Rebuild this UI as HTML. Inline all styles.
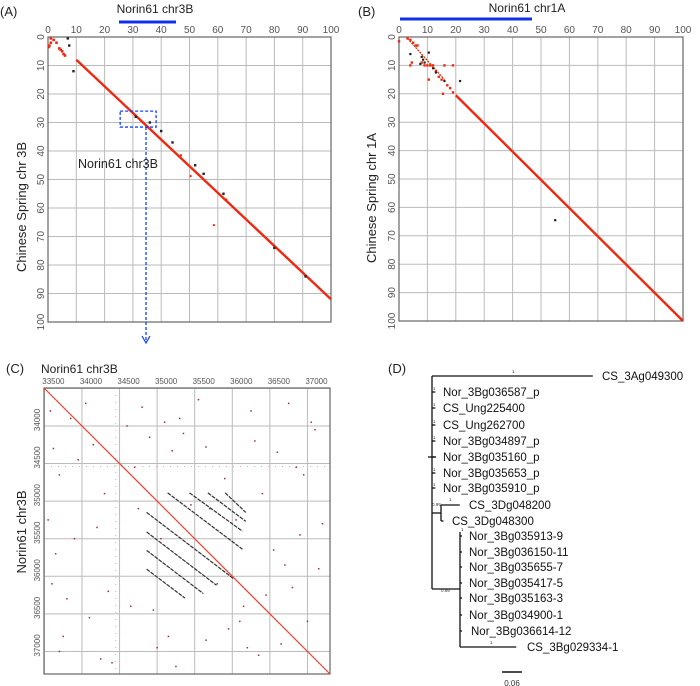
<!DOCTYPE html>
<html><head><meta charset="utf-8">
<style>
body{margin:0;background:#fff;}
svg{display:block;font-family:"Liberation Sans",sans-serif;}
</style></head>
<body>
<svg id="fig" width="700" height="686" viewBox="0 0 700 686">
<g id="A"></g>
<g id="B"></g>
<g id="C"></g>
<g id="D"></g>
</svg>
<script>
// ---------- data ----------
const ticksAB = [0,10,20,30,40,50,60,70,80,90,100];
// Panel A (Norin61 chr3B vs Chinese Spring chr3B), Mb
const aDiagStart = [10, 8];
const aDiagEnd = [100, 92];
const aRedDotsX = [0.5,1,2,3,4,4.5,5,5.5,6,1,0.3];
const aRedDotsY = [3,2,1,2,4,4.5,5,6,6.5,0.5,3.5];
const aBlackDotsX = [7,7.5,9,31,36,40,44,52,55,62,80,91];
const aBlackDotsY = [0.5,3,12,28,30,33,37,45,48,55,74,84];
const aOutX = [50.4, 58.6, 47, 63];
const aOutY = [48.8, 66, 41.5, 57];
const aBox = [25.5, 26, 38.2, 31.6];
// Panel B (Norin61 chr1A vs CS chr1A)
const bDiagStart = [20, 20.5];
const bDiagEnd = [100, 100];
const bRedDotsX = [0,3,4,5,6,6.5,4,4.5,8,9,10,11,12,13,14,15,16,17,18,19,15.5,10.5,19];
const bRedDotsY = [1.5,0.5,1,2,3,3,10,9,9,10,10,10,10,12,14,15,10,17,18,10,20,15,19.5];
const bBlackDotsX = [4,8,8.5,9,10.5,12,13,16,21.5,55,7.5];
const bBlackDotsY = [6,7,8,9,5.5,11,12.5,15.5,15.5,64.5,9.5];
// Panel C (self dot plot of Norin61 chr3B region), kb
const cTicks = [33500,34000,34500,35000,35500,36000,36500,37000];
const cDomain = [33495, 37300];
const cRepeatX1 = [35140,35430,35675,35905,34860,34860,34860,34860];
const cRepeatY1 = [34890,34890,34890,34890,35150,35410,35655,35905];
const cRepeatX2 = [36135,36135,36180,36180,36015,35790,35615,35370];
const cRepeatY2 = [35640,35400,35270,35150,36030,36120,36230,36290];
const cNoiseX = [33620,33700,33850,33950,34150,34300,34600,34700,34900,35100,35200,35350,35650,35900,36300,36400,36600,36850,36950,37100,33550,33900,34200,34750,35050,35450,35700,36050,36550,36700,36900,37150,33600,33800,34100,34350,34650,35800,36150,36450,36800,37000,35150,35650,35950,36200,33700,34250,33580,34050,34800,35300,35550,36250,36750,37050,33750,34400,35000,35250,36350,36650,37200,33650,34950,36100];
const cNoiseY = [34300,34650,33900,34450,34250,34900,34000,34550,34150,33950,34330,34100,34280,34700,34200,34900,34350,34550,34650,34050,35250,35500,35350,35100,35500,35050,35100,35250,35650,35850,35450,35900,36100,36300,36550,36200,36400,36100,36400,36250,36150,36600,36800,36850,36700,36950,37000,37100,33800,33700,33750,33900,33650,33800,33700,33950,36800,37150,36950,37200,37050,36900,35300,35700,36450,36600];
// Panel D tree
const leafNames = ["CS_3Ag049300","Nor_3Bg036587_p","CS_Ung225400","CS_Ung262700","Nor_3Bg034897_p","Nor_3Bg035160_p","Nor_3Bg035653_p","Nor_3Bg035910_p","CS_3Dg048200","CS_3Dg048300","Nor_3Bg035913-9","Nor_3Bg036150-11","Nor_3Bg035655-7","Nor_3Bg035417-5","Nor_3Bg035163-3","Nor_3Bg034900-1","Nor_3Bg036614-12","CS_3Bg029334-1"];
const leafDepth = [0.48,0.01,0.01,0.01,0.01,0.01,0.01,0.01,0.08,0.03,0.08,0.08,0.08,0.08,0.08,0.08,0.09,0.24];

// ---------- helpers ----------
const NS="http://www.w3.org/2000/svg";
function mk(parent,tag,attrs,text){const e=document.createElementNS(NS,tag);for(const k in attrs)e.setAttribute(k,attrs[k]);if(text!==undefined)e.textContent=text;parent.appendChild(e);return e;}

function dotPlot(g, x0, y0, w, h, opts){
  const sx=v=>x0+(v-opts.dom[0])/(opts.dom[1]-opts.dom[0])*w;
  const sy=v=>y0+(v-opts.dom[0])/(opts.dom[1]-opts.dom[0])*h;
  opts.ticks.forEach((t,i)=>{
    const gx=mk(g,'line',{x1:sx(t),y1:y0,x2:sx(t),y2:y0+h,stroke:'#bbb','stroke-width':1});
    
    
    const gy=mk(g,'line',{x1:x0,y1:sy(t),x2:x0+w,y2:sy(t),stroke:'#bbb','stroke-width':1});
    
    
    const tx=mk(g,'text',{x:sx(t)+opts.xoff,y:y0-4,'font-size':opts.fs,fill:'#555','text-anchor':'middle'},t);
    
    
    if(opts.skipFirstY && i===0) return;
    const yy=sy(t)+opts.yoff;
    const ty=mk(g,'text',{x:x0-4,y:yy,'font-size':opts.fs,fill:'#555','text-anchor':'middle',transform:`rotate(-90 ${x0-4} ${yy})`},t);
    
    
  });
  const fr=mk(g,'rect',{x:x0,y:y0,width:w,height:h,fill:'none',stroke:'#666','stroke-width':1.2});
  
  
  return {sx,sy};
}
function dots(g,xs,ys,sx,sy,color,r,name){
  xs.forEach((v,i)=>{
    const c=mk(g,'rect',{x:sx(v)-r,y:sy(ys[i])-r,width:2*r,height:2*r,fill:color});
    
    
  });
}

// ---------- Panel A ----------
(function(){
  const g=document.getElementById('A');
  mk(g,'text',{x:0,y:16,'font-size':13,fill:'#222'},'(A)');
  const t=mk(g,'text',{x:155,y:13,'font-size':12,fill:'#222','text-anchor':'middle'},'Norin61 chr3B');
  
  
  const bar=mk(g,'line',{x1:119,y1:22,x2:176,y2:22,stroke:'#1030e8','stroke-width':3});
  
  
  const yt=mk(g,'text',{x:26,y:207,'font-size':13,fill:'#222','text-anchor':'middle',transform:'rotate(-90 26 207)'},'Chinese Spring chr 3B');
  
  
  const {sx,sy}=dotPlot(g,48,37,283,285,{dom:[0,100],ticks:ticksAB,fs:10,xoff:0,yoff:0});
  const d=mk(g,'line',{x1:sx(aDiagStart[0]),y1:sy(aDiagStart[1]),x2:sx(aDiagEnd[0]),y2:sy(aDiagEnd[1]),stroke:'#f02810','stroke-width':2.4});
  
  
  dots(g,aRedDotsX,aRedDotsY,sx,sy,'#f02810',1.3,'red-match');
  dots(g,aOutX,aOutY,sx,sy,'#f02810',1,'red-match');
  dots(g,aBlackDotsX,aBlackDotsY,sx,sy,'#222',1.2,'black-match');
  const box=mk(g,'rect',{x:sx(aBox[0]),y:sy(aBox[1]),width:sx(aBox[2])-sx(aBox[0]),height:sy(aBox[3])-sy(aBox[1]),fill:'none',stroke:'#1040ff','stroke-width':1.3,'stroke-dasharray':'3,2'});
  
  
  const ln=mk(g,'line',{x1:146,y1:sy(aBox[3]),x2:146,y2:341,stroke:'#1040ff','stroke-width':1.3,'stroke-dasharray':'3,2'});
  
  
  const ah=mk(g,'path',{d:'M142,336 L146,343 L150,336',fill:'none',stroke:'#1040ff','stroke-width':1.2});
  
  
  const lb=mk(g,'text',{x:78,y:168,'font-size':12.5,fill:'#222'},'Norin61 chr3B');
  
  
})();

// ---------- Panel B ----------
(function(){
  const g=document.getElementById('B');
  mk(g,'text',{x:358,y:16,'font-size':13,fill:'#222'},'(B)');
  const t=mk(g,'text',{x:527,y:12,'font-size':12,fill:'#222','text-anchor':'middle'},'Norin61 chr1A');
  
  
  const bar=mk(g,'line',{x1:400,y1:19,x2:532,y2:19,stroke:'#1030e8','stroke-width':3});
  
  
  const yt=mk(g,'text',{x:376,y:198,'font-size':13,fill:'#222','text-anchor':'middle',transform:'rotate(-90 376 198)'},'Chinese Spring chr 1A');
  
  
  const {sx,sy}=dotPlot(g,399,37,284,284,{dom:[0,100],ticks:ticksAB,fs:10,xoff:0,yoff:0});
  const d=mk(g,'line',{x1:sx(bDiagStart[0]),y1:sy(bDiagStart[1]),x2:sx(bDiagEnd[0]),y2:sy(bDiagEnd[1]),stroke:'#f02810','stroke-width':2.4});
  
  
  const d2=mk(g,'line',{x1:sx(3),y1:sy(0.5),x2:sx(16),y2:sy(15),stroke:'#e03010','stroke-width':1.3,'stroke-dasharray':'2,1'});
  
  
  dots(g,bRedDotsX,bRedDotsY,sx,sy,'#f02810',1.2,'red-match');
  dots(g,bBlackDotsX,bBlackDotsY,sx,sy,'#222',1.1,'black-match');
})();

// ---------- Panel C ----------
(function(){
  const g=document.getElementById('C');
  mk(g,'text',{x:6,y:373,'font-size':13,fill:'#222'},'(C)');
  const t=mk(g,'text',{x:41,y:373,'font-size':12,fill:'#222'},'Norin61 chr3B');
  
  
  const yt=mk(g,'text',{x:26,y:532,'font-size':13,fill:'#222','text-anchor':'middle',transform:'rotate(-90 26 532)'},'Norin61 chr3B');
  
  
  const {sx,sy}=dotPlot(g,44,388,286,286,{dom:cDomain,ticks:cTicks,fs:8,xoff:9,yoff:-6,skipFirstY:true});
  const vc=mk(g,'line',{x1:sx(34450),y1:388,x2:sx(34450),y2:674,stroke:'#f08070','stroke-width':1,'stroke-dasharray':'1,6',opacity:0.7});
  
  
  const hr=mk(g,'line',{x1:44,y1:sy(34540),x2:330,y2:sy(34540),stroke:'#f08070','stroke-width':1,'stroke-dasharray':'1,6',opacity:0.7});
  
  
  dots(g,cNoiseX,cNoiseY,sx,sy,'#a03030',0.75,'noise-match');
  cRepeatX1.forEach((x1,i)=>{
    const l=mk(g,'line',{x1:sx(x1),y1:sy(cRepeatY1[i]),x2:sx(cRepeatX2[i]),y2:sy(cRepeatY2[i]),stroke:'#333','stroke-width':1.2,'stroke-dasharray':'4,1'});
    
    
  });
  const d=mk(g,'line',{x1:44,y1:388,x2:330,y2:674,stroke:'#f04030','stroke-width':1.2});
  
  
})();

// ---------- Panel D ----------
(function(){
  const g=document.getElementById('D');
  mk(g,'text',{x:388,y:373,'font-size':13,fill:'#222'},'(D)');
  const rowsY=[376,392,408,425,441,457,473,488,505,521,536,552,567,583,598,615,631,647];
  const baseX=432, scale=335;
  const stroke={stroke:'#111','stroke-width':1.3};
  const sx=v=>baseX+v*scale;
  mk(g,'line',Object.assign({x1:baseX,y1:376,x2:baseX,y2:589},stroke));
  const outX=sx(leafDepth[0]);
  const o=mk(g,'line',Object.assign({x1:baseX,y1:rowsY[0],x2:outX,y2:rowsY[0]},stroke));
  
  
  for(let i=1;i<=7;i++){
    const b=mk(g,'line',Object.assign({x1:baseX,y1:rowsY[i],x2:sx(leafDepth[i]),y2:rowsY[i]},stroke));
    
    
  }
  mk(g,'line',Object.assign({x1:428,y1:457,x2:436,y2:457},stroke));
  const nD=441;
  mk(g,'line',Object.assign({x1:baseX,y1:513,x2:nD,y2:513},stroke));
  mk(g,'line',Object.assign({x1:nD,y1:505,x2:nD,y2:521},stroke));
  mk(g,'line',Object.assign({x1:nD,y1:rowsY[8],x2:nD+leafDepth[8]*scale*0.7,y2:rowsY[8]},stroke));
  mk(g,'line',Object.assign({x1:nD,y1:rowsY[9],x2:nD+leafDepth[9]*scale*0.25,y2:rowsY[9]},stroke));
  const nB=460;
  mk(g,'line',Object.assign({x1:baseX,y1:589,x2:nB,y2:589},stroke));
  mk(g,'line',Object.assign({x1:nB,y1:532,x2:nB,y2:647},stroke));
  for(let i=10;i<=16;i++){
    mk(g,'line',Object.assign({x1:nB,y1:rowsY[i],x2:nB+2,y2:rowsY[i]},stroke));
  }
  mk(g,'line',Object.assign({x1:nB,y1:rowsY[17],x2:nB+leafDepth[17]*scale*0.7,y2:rowsY[17]},stroke));
  const labelX=[602,443,443,443,443,443,443,443,469,452,469,469,469,469,469,469,471,527];
  leafNames.forEach((n,i)=>{
    const t=mk(g,'text',{x:labelX[i],y:rowsY[i]+4,'font-size':11.5,fill:'#111'},n);
    
    
  });
  const sup=[[512,373,'1'],[433,390,'1'],[433,406,'1'],[433,423,'1'],[433,439,'1'],[433,471,'1'],[433,486,'1'],[449,501,'1'],[432,506,'0.99'],[461,531,'1'],[441,592,'0.99'],[490,644,'1']];
  sup.forEach(s=>{
    const t=mk(g,'text',{x:s[0],y:s[1],'font-size':4.5,fill:'#333'},s[2]);
    
    
  });
  const sb=mk(g,'line',{x1:502,y1:672,x2:522,y2:672,stroke:'#111','stroke-width':1.5});
  
  
  const st=mk(g,'text',{x:512,y:686,'font-size':8,fill:'#333','text-anchor':'middle'},'0.06');
  
  
})();
</script>
</body></html>
